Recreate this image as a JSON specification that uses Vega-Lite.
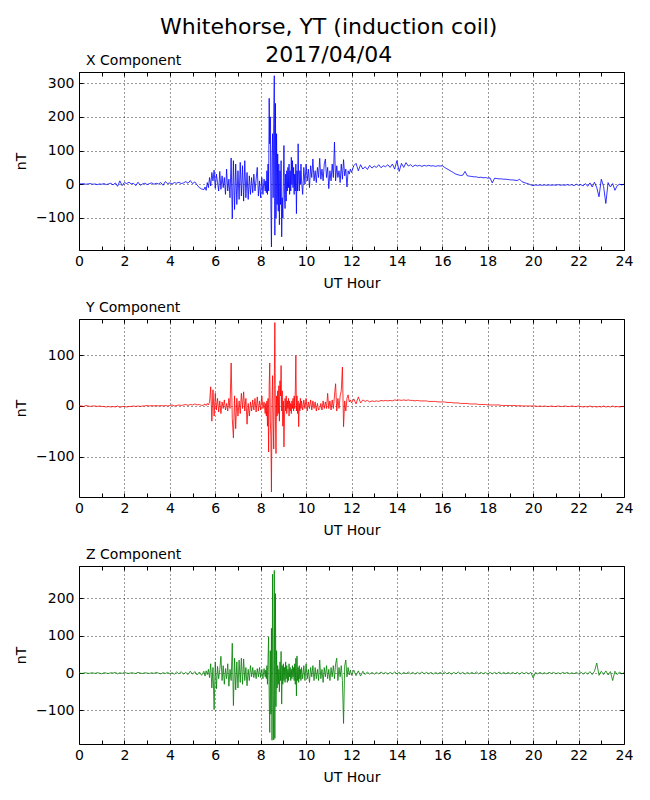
{
  "$schema": "https://vega.github.io/schema/vega-lite/v6.json",
  "padding": {"left": 14, "top": 16, "right": 20, "bottom": 10},
  "title": {
    "text": ["Whitehorse, YT (induction coil)", "2017/04/04"],
    "fontSize": 22,
    "fontWeight": "normal",
    "lineHeight": 28,
    "anchor": "middle",
    "offset": -14,
    "dx": 5,
    "color": "black"
  },
  "data": {
    "values": [
      {"t":0.0,"x":2,"y":0,"z":1},{"t":0.1,"x":1,"y":0,"z":-1},{"t":0.2,"x":2,"y":-1,"z":0},{"t":0.3,"x":0,"y":1,"z":1},
      {"t":0.4,"x":1,"y":0,"z":-1},{"t":0.5,"x":2,"y":-1,"z":0},{"t":0.6,"x":0,"y":0,"z":1},{"t":0.7,"x":1,"y":0,"z":-1},
      {"t":0.8,"x":-1,"y":-1,"z":1},{"t":0.9,"x":1,"y":0,"z":0},{"t":1.0,"x":0,"y":-1,"z":-2},{"t":1.1,"x":2,"y":-1,"z":1},
      {"t":1.2,"x":-1,"y":-2,"z":0},{"t":1.3,"x":1,"y":-1,"z":-1},{"t":1.4,"x":3,"y":-2,"z":1},{"t":1.5,"x":-2,"y":-1,"z":0},
      {"t":1.6,"x":4,"y":-2,"z":2},{"t":1.7,"x":-6,"y":0,"z":-2},{"t":1.8,"x":10,"y":-3,"z":1},{"t":1.9,"x":-4,"y":-1,"z":-1},
      {"t":2.0,"x":5,"y":-1,"z":2},{"t":2.1,"x":2,"y":-2,"z":0},{"t":2.2,"x":6,"y":-1,"z":-1},{"t":2.3,"x":1,"y":-1,"z":1},
      {"t":2.4,"x":3,"y":0,"z":0},{"t":2.5,"x":-4,"y":-1,"z":-1},{"t":2.6,"x":6,"y":0,"z":2},{"t":2.7,"x":-3,"y":-1,"z":0},
      {"t":2.8,"x":1,"y":0,"z":-1},{"t":2.9,"x":3,"y":0,"z":1},{"t":3.0,"x":-1,"y":1,"z":0},{"t":3.1,"x":2,"y":0,"z":-1},
      {"t":3.2,"x":4,"y":1,"z":1},{"t":3.3,"x":0,"y":0,"z":-1},{"t":3.4,"x":3,"y":1,"z":2},{"t":3.5,"x":1,"y":0,"z":0},
      {"t":3.6,"x":5,"y":1,"z":-2},{"t":3.7,"x":-3,"y":0,"z":1},{"t":3.8,"x":8,"y":1,"z":-1},{"t":3.9,"x":2,"y":0,"z":2},
      {"t":4.0,"x":4,"y":1,"z":-2},{"t":4.1,"x":1,"y":2,"z":1},{"t":4.2,"x":5,"y":0,"z":-3},{"t":4.3,"x":3,"y":1,"z":3},
      {"t":4.4,"x":6,"y":2,"z":-2},{"t":4.5,"x":2,"y":1,"z":4},{"t":4.6,"x":4,"y":2,"z":-3},{"t":4.7,"x":8,"y":3,"z":2},
      {"t":4.8,"x":3,"y":1,"z":-4},{"t":4.9,"x":11,"y":3,"z":5},{"t":5.0,"x":2,"y":2,"z":-3},{"t":5.1,"x":7,"y":4,"z":4},
      {"t":5.2,"x":-2,"y":2,"z":-5},{"t":5.3,"x":-10,"y":3,"z":3},{"t":5.4,"x":-14,"y":1,"z":-6},
      {"t":5.5,"x":-16,"y":2,"z":5},{"t":5.55,"x":-8,"y":4,"z":-8},{"t":5.6,"x":-18,"y":1,"z":6},{"t":5.65,"x":5,"y":5,"z":-4},
      {"t":5.7,"x":-10,"y":2,"z":10},{"t":5.75,"x":20,"y":8,"z":-12},{"t":5.8,"x":-5,"y":38,"z":25},{"t":5.85,"x":35,"y":-30,"z":-40},
      {"t":5.9,"x":10,"y":32,"z":15},{"t":5.95,"x":42,"y":-20,"z":-98},{"t":6.0,"x":-12,"y":25,"z":30},{"t":6.05,"x":30,"y":-8,"z":-42},
      {"t":6.1,"x":5,"y":15,"z":18},{"t":6.15,"x":-20,"y":-12,"z":-15},{"t":6.2,"x":38,"y":10,"z":10},{"t":6.25,"x":-15,"y":-15,"z":45},
      {"t":6.3,"x":25,"y":8,"z":-20},{"t":6.35,"x":-10,"y":-5,"z":20},{"t":6.4,"x":20,"y":12,"z":-30},{"t":6.45,"x":-30,"y":-8,"z":12},
      {"t":6.5,"x":45,"y":5,"z":-15},{"t":6.55,"x":-20,"y":-10,"z":25},{"t":6.6,"x":15,"y":15,"z":-35},{"t":6.65,"x":-40,"y":-5,"z":10},
      {"t":6.7,"x":78,"y":85,"z":-20},{"t":6.75,"x":-102,"y":-25,"z":80},{"t":6.8,"x":70,"y":-63,"z":-87},{"t":6.85,"x":-75,"y":20,"z":40},
      {"t":6.9,"x":60,"y":-45,"z":-45},{"t":6.95,"x":-60,"y":15,"z":30},{"t":7.0,"x":40,"y":-20,"z":-40},{"t":7.05,"x":-45,"y":10,"z":35},
      {"t":7.1,"x":65,"y":-15,"z":-25},{"t":7.15,"x":-35,"y":25,"z":40},{"t":7.2,"x":55,"y":-5,"z":-30},{"t":7.25,"x":-50,"y":28,"z":38},
      {"t":7.3,"x":70,"y":-10,"z":-20},{"t":7.35,"x":-40,"y":15,"z":15},{"t":7.4,"x":35,"y":-36,"z":-34},{"t":7.45,"x":-45,"y":5,"z":10},
      {"t":7.5,"x":25,"y":-20,"z":-20},{"t":7.55,"x":-30,"y":8,"z":20},{"t":7.6,"x":20,"y":-10,"z":-10},{"t":7.65,"x":-25,"y":12,"z":15},
      {"t":7.7,"x":30,"y":-8,"z":-12},{"t":7.75,"x":-20,"y":15,"z":8},{"t":7.8,"x":15,"y":-12,"z":-15},{"t":7.85,"x":50,"y":18,"z":12},
      {"t":7.9,"x":-35,"y":-10,"z":-10},{"t":7.95,"x":10,"y":10,"z":15},{"t":8.0,"x":-40,"y":-8,"z":-12},{"t":8.05,"x":20,"y":20,"z":10},
      {"t":8.1,"x":-30,"y":-5,"z":-15},{"t":8.15,"x":15,"y":8,"z":12},{"t":8.2,"x":-20,"y":-15,"z":-10},
      {"t":8.225,"x":10,"y":5,"z":8},{"t":8.25,"x":-25,"y":-20,"z":-15},{"t":8.275,"x":40,"y":10,"z":20},{"t":8.3,"x":-30,"y":-40,"z":-30},
      {"t":8.325,"x":60,"y":15,"z":40},{"t":8.35,"x":-20,"y":-91,"z":97},{"t":8.375,"x":255,"y":40,"z":-60},{"t":8.4,"x":120,"y":85,"z":-159},
      {"t":8.425,"x":200,"y":-30,"z":60},{"t":8.45,"x":-60,"y":-60,"z":-110},{"t":8.475,"x":-186,"y":-170,"z":120},{"t":8.5,"x":80,"y":10,"z":-180},
      {"t":8.525,"x":150,"y":60,"z":265},{"t":8.55,"x":-40,"y":-30,"z":-60},{"t":8.575,"x":180,"y":-85,"z":-179},{"t":8.6,"x":322,"y":40,"z":275},
      {"t":8.625,"x":-151,"y":165,"z":-175},{"t":8.65,"x":240,"y":-20,"z":213},{"t":8.675,"x":-100,"y":-94,"z":-90},{"t":8.7,"x":150,"y":20,"z":60},
      {"t":8.725,"x":-60,"y":-20,"z":-40},{"t":8.75,"x":90,"y":30,"z":20},{"t":8.775,"x":-80,"y":-15,"z":-30},{"t":8.8,"x":60,"y":40,"z":10},
      {"t":8.825,"x":-120,"y":-30,"z":-50},{"t":8.85,"x":40,"y":50,"z":30},{"t":8.875,"x":-60,"y":20,"z":-20},{"t":8.9,"x":70,"y":80,"z":58},
      {"t":8.925,"x":-156,"y":-10,"z":-83},{"t":8.95,"x":-40,"y":30,"z":20},{"t":8.975,"x":-100,"y":-40,"z":-30},{"t":9.0,"x":20,"y":10,"z":25},
      {"t":9.025,"x":115,"y":-81,"z":-20},{"t":9.05,"x":-30,"y":-20,"z":15},{"t":9.075,"x":-72,"y":15,"z":-25},{"t":9.1,"x":30,"y":-10,"z":30},
      {"t":9.125,"x":-50,"y":20,"z":-15},{"t":9.15,"x":40,"y":-15,"z":20},{"t":9.175,"x":-20,"y":10,"z":-25},{"t":9.2,"x":50,"y":-5,"z":10},
      {"t":9.225,"x":-10,"y":15,"z":-20},{"t":9.25,"x":60,"y":-20,"z":25},{"t":9.275,"x":-30,"y":10,"z":-10},{"t":9.3,"x":40,"y":-10,"z":15},
      {"t":9.325,"x":-20,"y":5,"z":-20},{"t":9.35,"x":80,"y":-15,"z":10},{"t":9.375,"x":0,"y":10,"z":-15},{"t":9.4,"x":70,"y":-5,"z":20},
      {"t":9.425,"x":-10,"y":15,"z":-10},{"t":9.45,"x":50,"y":-10,"z":15},{"t":9.475,"x":-30,"y":20,"z":-20},{"t":9.5,"x":30,"y":-5,"z":25},
      {"t":9.525,"x":-20,"y":30,"z":-30},{"t":9.55,"x":60,"y":100,"z":40},{"t":9.575,"x":-87,"y":-10,"z":-61},{"t":9.6,"x":40,"y":20,"z":46},
      {"t":9.625,"x":-20,"y":-15,"z":-20},{"t":9.65,"x":120,"y":10,"z":15},{"t":9.675,"x":10,"y":-41,"z":-25},{"t":9.7,"x":-20,"y":5,"z":20},
      {"t":9.725,"x":40,"y":-10,"z":-15},{"t":9.75,"x":0,"y":15,"z":10},{"t":9.775,"x":60,"y":-5,"z":-20},{"t":9.8,"x":10,"y":10,"z":15},
      {"t":9.85,"x":-30,"y":-8,"z":-15},{"t":9.9,"x":50,"y":12,"z":20},{"t":9.95,"x":0,"y":-5,"z":-20},{"t":10.0,"x":60,"y":15,"z":25},
      {"t":10.05,"x":10,"y":-10,"z":-15},{"t":10.1,"x":45,"y":8,"z":10},{"t":10.15,"x":-10,"y":-5,"z":-25},{"t":10.2,"x":55,"y":12,"z":15},
      {"t":10.25,"x":20,"y":-8,"z":-10},{"t":10.3,"x":75,"y":10,"z":20},{"t":10.35,"x":10,"y":-5,"z":-20},{"t":10.4,"x":40,"y":8,"z":15},
      {"t":10.45,"x":5,"y":-10,"z":-15},{"t":10.5,"x":50,"y":5,"z":10},{"t":10.55,"x":20,"y":-8,"z":-20},{"t":10.6,"x":77,"y":-5,"z":35},
      {"t":10.65,"x":15,"y":5,"z":-15},{"t":10.7,"x":45,"y":-8,"z":10},{"t":10.75,"x":10,"y":10,"z":-25},{"t":10.8,"x":60,"y":-5,"z":15},
      {"t":10.85,"x":75,"y":8,"z":-10},{"t":10.9,"x":20,"y":-5,"z":20},{"t":10.95,"x":50,"y":25,"z":-15},{"t":11.0,"x":-13,"y":-5,"z":10},
      {"t":11.05,"x":40,"y":10,"z":-20},{"t":11.1,"x":10,"y":-8,"z":15},{"t":11.15,"x":60,"y":12,"z":-10},{"t":11.2,"x":20,"y":-5,"z":20},
      {"t":11.25,"x":125,"y":20,"z":-15},{"t":11.3,"x":10,"y":44,"z":25},{"t":11.35,"x":55,"y":-10,"z":40},{"t":11.4,"x":20,"y":15,"z":-20},
      {"t":11.45,"x":40,"y":-5,"z":15},{"t":11.5,"x":5,"y":20,"z":-10},{"t":11.55,"x":60,"y":30,"z":20},{"t":11.6,"x":15,"y":77,"z":-20},
      {"t":11.65,"x":73,"y":-41,"z":-135},{"t":11.7,"x":25,"y":10,"z":20},{"t":11.75,"x":45,"y":-10,"z":35},{"t":11.8,"x":-8,"y":15,"z":-10},
      {"t":11.85,"x":40,"y":22,"z":15},{"t":11.9,"x":30,"y":8,"z":-5},{"t":11.95,"x":45,"y":12,"z":8},{"t":12.0,"x":35,"y":6,"z":-6},
      {"t":12.1,"x":55,"y":14,"z":8},{"t":12.2,"x":62,"y":4,"z":-7},{"t":12.3,"x":40,"y":18,"z":6},{"t":12.4,"x":58,"y":6,"z":-8},
      {"t":12.5,"x":45,"y":12,"z":5},{"t":12.6,"x":52,"y":9,"z":-4},{"t":12.7,"x":44,"y":11,"z":3},{"t":12.8,"x":56,"y":8,"z":-3},
      {"t":12.9,"x":48,"y":10,"z":2},{"t":13.0,"x":54,"y":9,"z":-3},{"t":13.1,"x":50,"y":10,"z":2},{"t":13.2,"x":58,"y":9,"z":-2},
      {"t":13.3,"x":49,"y":11,"z":3},{"t":13.4,"x":55,"y":10,"z":-2},{"t":13.5,"x":52,"y":11,"z":2},{"t":13.6,"x":58,"y":10,"z":-3},
      {"t":13.7,"x":50,"y":11,"z":2},{"t":13.8,"x":60,"y":10,"z":-2},{"t":13.9,"x":45,"y":12,"z":3},{"t":14.0,"x":70,"y":11,"z":-2},
      {"t":14.1,"x":38,"y":12,"z":2},{"t":14.2,"x":62,"y":11,"z":-3},{"t":14.3,"x":50,"y":12,"z":2},{"t":14.4,"x":64,"y":11,"z":-2},
      {"t":14.5,"x":54,"y":12,"z":3},{"t":14.6,"x":58,"y":11,"z":-2},{"t":14.7,"x":52,"y":11,"z":2},{"t":14.8,"x":57,"y":10,"z":-3},
      {"t":14.9,"x":54,"y":11,"z":2},{"t":15.0,"x":56,"y":10,"z":-2},{"t":15.1,"x":53,"y":10,"z":3},{"t":15.2,"x":56,"y":10,"z":-2},
      {"t":15.3,"x":54,"y":10,"z":2},{"t":15.4,"x":56,"y":9,"z":-2},{"t":15.5,"x":54,"y":9,"z":2},{"t":15.6,"x":55,"y":9,"z":-3},
      {"t":15.7,"x":53,"y":9,"z":2},{"t":15.8,"x":55,"y":8,"z":-2},{"t":15.9,"x":54,"y":8,"z":2},{"t":16.0,"x":55,"y":8,"z":-2},
      {"t":16.1,"x":50,"y":8,"z":3},{"t":16.2,"x":46,"y":7,"z":-2},{"t":16.3,"x":42,"y":7,"z":2},{"t":16.4,"x":38,"y":7,"z":-3},
      {"t":16.5,"x":34,"y":6,"z":2},{"t":16.6,"x":30,"y":6,"z":-2},{"t":16.7,"x":28,"y":6,"z":3},{"t":16.8,"x":26,"y":5,"z":-2},
      {"t":16.9,"x":27,"y":5,"z":2},{"t":17.0,"x":38,"y":5,"z":-3},{"t":17.1,"x":25,"y":5,"z":2},{"t":17.2,"x":24,"y":4,"z":-2},
      {"t":17.3,"x":23,"y":4,"z":2},{"t":17.4,"x":22,"y":4,"z":-2},{"t":17.5,"x":22,"y":4,"z":3},{"t":17.6,"x":20,"y":3,"z":-2},
      {"t":17.7,"x":21,"y":3,"z":2},{"t":17.8,"x":19,"y":3,"z":-2},{"t":17.9,"x":20,"y":3,"z":2},{"t":18.0,"x":18,"y":2,"z":-3},
      {"t":18.1,"x":19,"y":2,"z":2},{"t":18.2,"x":4,"y":2,"z":-2},{"t":18.3,"x":18,"y":2,"z":2},{"t":18.4,"x":17,"y":2,"z":-2},
      {"t":18.5,"x":16,"y":2,"z":3},{"t":18.6,"x":16,"y":1,"z":-2},{"t":18.7,"x":15,"y":1,"z":2},{"t":18.8,"x":15,"y":1,"z":-2},
      {"t":18.9,"x":14,"y":1,"z":2},{"t":19.0,"x":13,"y":1,"z":-2},{"t":19.1,"x":13,"y":1,"z":2},{"t":19.2,"x":12,"y":1,"z":-2},
      {"t":19.3,"x":11,"y":0,"z":2},{"t":19.4,"x":15,"y":1,"z":-3},{"t":19.5,"x":8,"y":0,"z":2},{"t":19.6,"x":5,"y":0,"z":-2},
      {"t":19.7,"x":3,"y":0,"z":2},{"t":19.8,"x":1,"y":0,"z":-2},{"t":19.9,"x":-2,"y":0,"z":2},{"t":20.0,"x":-4,"y":0,"z":-13},
      {"t":20.1,"x":-2,"y":0,"z":2},{"t":20.2,"x":-3,"y":-1,"z":-2},{"t":20.3,"x":-2,"y":0,"z":2},{"t":20.4,"x":-3,"y":-1,"z":-2},
      {"t":20.5,"x":-2,"y":0,"z":1},{"t":20.6,"x":-3,"y":-1,"z":-2},{"t":20.7,"x":-2,"y":-1,"z":2},{"t":20.8,"x":-3,"y":0,"z":-1},
      {"t":20.9,"x":-2,"y":-1,"z":2},{"t":21.0,"x":-3,"y":-1,"z":-2},{"t":21.1,"x":-1,"y":0,"z":1},{"t":21.2,"x":-3,"y":-1,"z":-2},
      {"t":21.3,"x":-2,"y":-1,"z":2},{"t":21.4,"x":-3,"y":0,"z":-1},{"t":21.5,"x":-1,"y":-1,"z":2},{"t":21.6,"x":-3,"y":-1,"z":-2},
      {"t":21.7,"x":-1,"y":0,"z":1},{"t":21.8,"x":-4,"y":-1,"z":-2},{"t":21.9,"x":0,"y":-1,"z":2},{"t":22.0,"x":-3,"y":0,"z":-2},
      {"t":22.1,"x":-1,"y":-1,"z":3},{"t":22.2,"x":-5,"y":-2,"z":-3},{"t":22.3,"x":2,"y":-1,"z":2},{"t":22.4,"x":-6,"y":-2,"z":-3},
      {"t":22.5,"x":4,"y":0,"z":4},{"t":22.6,"x":-8,"y":-2,"z":-4},{"t":22.7,"x":6,"y":-1,"z":5},{"t":22.8,"x":-10,"y":-2,"z":27},
      {"t":22.9,"x":-37,"y":-1,"z":-6},{"t":23.0,"x":15,"y":-2,"z":5},{"t":23.1,"x":-6,"y":0,"z":-4},{"t":23.2,"x":-57,"y":-2,"z":6},
      {"t":23.3,"x":5,"y":-1,"z":-5},{"t":23.4,"x":-8,"y":-2,"z":4},{"t":23.5,"x":2,"y":0,"z":-20},{"t":23.6,"x":-18,"y":-2,"z":5},
      {"t":23.7,"x":-4,"y":-1,"z":-4},{"t":23.8,"x":0,"y":-2,"z":3},{"t":23.9,"x":-2,"y":-1,"z":-2},{"t":24.0,"x":0,"y":-1,"z":1}
    ]
  },
  "spacing": 69,
  "bounds": "flush",
  "vconcat": [
    {
      "width": 545,
      "height": 178,
      "title": {"text": "X Component", "anchor": "start", "frame": "group", "dx": 7, "offset": 4},
      "resolve": {"axis": {"x": "independent", "y": "independent"}},
      "layer": [
        {
          "mark": {"type": "line", "color": "#0000ff", "strokeWidth": 0.8},
          "encoding": {
            "x": {
              "field": "t", "type": "quantitative",
              "scale": {"domain": [0, 24], "nice": false},
              "axis": {
                "orient": "bottom", "title": "UT Hour",
                "values": [0,1,2,3,4,5,6,7,8,9,10,11,12,13,14,15,16,17,18,19,20,21,22,23,24],
                "labelExpr": "datum.value % 2 == 0 ? datum.label : ''",
                "grid": true,
                "gridOpacity": {"condition": {"test": "datum.value % 2 == 1", "value": 0}, "value": 1}
              }
            },
            "y": {
              "field": "x", "type": "quantitative",
              "scale": {"domain": [-195, 333], "nice": false, "zero": false},
              "axis": {"orient": "left", "title": "nT", "values": [-100, 0, 100, 200, 300], "grid": true}
            }
          }
        },
        {
          "mark": {"type": "line", "strokeOpacity": 0},
          "encoding": {
            "x": {
              "field": "t", "type": "quantitative",
              "axis": {"orient": "top", "title": null, "labels": false, "grid": false,
                "values": [0,1,2,3,4,5,6,7,8,9,10,11,12,13,14,15,16,17,18,19,20,21,22,23,24]}
            },
            "y": {
              "field": "x", "type": "quantitative",
              "axis": {"orient": "right", "title": null, "labels": false, "grid": false, "values": [-100, 0, 100, 200, 300]}
            }
          }
        }
      ]
    },
    {
      "width": 545,
      "height": 178,
      "title": {"text": "Y Component", "anchor": "start", "frame": "group", "dx": 7, "offset": 4},
      "resolve": {"axis": {"x": "independent", "y": "independent"}},
      "layer": [
        {
          "mark": {"type": "line", "color": "#ff0000", "strokeWidth": 0.8},
          "encoding": {
            "x": {
              "field": "t", "type": "quantitative",
              "scale": {"domain": [0, 24], "nice": false},
              "axis": {
                "orient": "bottom", "title": "UT Hour",
                "values": [0,1,2,3,4,5,6,7,8,9,10,11,12,13,14,15,16,17,18,19,20,21,22,23,24],
                "labelExpr": "datum.value % 2 == 0 ? datum.label : ''",
                "grid": true,
                "gridOpacity": {"condition": {"test": "datum.value % 2 == 1", "value": 0}, "value": 1}
              }
            },
            "y": {
              "field": "y", "type": "quantitative",
              "scale": {"domain": [-180, 172], "nice": false, "zero": false},
              "axis": {"orient": "left", "title": "nT", "values": [-100, 0, 100], "grid": true}
            }
          }
        },
        {
          "mark": {"type": "line", "strokeOpacity": 0},
          "encoding": {
            "x": {
              "field": "t", "type": "quantitative",
              "axis": {"orient": "top", "title": null, "labels": false, "grid": false,
                "values": [0,1,2,3,4,5,6,7,8,9,10,11,12,13,14,15,16,17,18,19,20,21,22,23,24]}
            },
            "y": {
              "field": "y", "type": "quantitative",
              "axis": {"orient": "right", "title": null, "labels": false, "grid": false, "values": [-100, 0, 100]}
            }
          }
        }
      ]
    },
    {
      "width": 545,
      "height": 178,
      "title": {"text": "Z Component", "anchor": "start", "frame": "group", "dx": 7, "offset": 4},
      "resolve": {"axis": {"x": "independent", "y": "independent"}},
      "layer": [
        {
          "mark": {"type": "line", "color": "#008000", "strokeWidth": 0.8},
          "encoding": {
            "x": {
              "field": "t", "type": "quantitative",
              "scale": {"domain": [0, 24], "nice": false},
              "axis": {
                "orient": "bottom", "title": "UT Hour",
                "values": [0,1,2,3,4,5,6,7,8,9,10,11,12,13,14,15,16,17,18,19,20,21,22,23,24],
                "labelExpr": "datum.value % 2 == 0 ? datum.label : ''",
                "grid": true,
                "gridOpacity": {"condition": {"test": "datum.value % 2 == 1", "value": 0}, "value": 1}
              }
            },
            "y": {
              "field": "z", "type": "quantitative",
              "scale": {"domain": [-190, 287], "nice": false, "zero": false},
              "axis": {"orient": "left", "title": "nT", "values": [-100, 0, 100, 200], "grid": true}
            }
          }
        },
        {
          "mark": {"type": "line", "strokeOpacity": 0},
          "encoding": {
            "x": {
              "field": "t", "type": "quantitative",
              "axis": {"orient": "top", "title": null, "labels": false, "grid": false,
                "values": [0,1,2,3,4,5,6,7,8,9,10,11,12,13,14,15,16,17,18,19,20,21,22,23,24]}
            },
            "y": {
              "field": "z", "type": "quantitative",
              "axis": {"orient": "right", "title": null, "labels": false, "grid": false, "values": [-100, 0, 100, 200]}
            }
          }
        }
      ]
    }
  ],
  "config": {
    "font": "DejaVu Sans",
    "background": "white",
    "view": {"stroke": "black", "strokeWidth": 1},
    "axis": {
      "domain": false,
      "tickSize": -4,
      "tickColor": "black",
      "tickWidth": 1,
      "labelFont": "DejaVu Sans",
      "labelFontSize": 14,
      "labelColor": "black",
      "labelFlush": false,
      "labelOverlap": false,
      "labelBound": false,
      "titleFont": "DejaVu Sans",
      "titleFontSize": 14,
      "titleFontWeight": "normal",
      "titleColor": "black",
      "gridColor": "black",
      "gridDash": [1, 3],
      "gridWidth": 0.8
    },
    "axisX": {"labelPadding": 8, "titlePadding": 8},
    "axisY": {"labelPadding": 9, "titlePadding": 7},
    "title": {"font": "DejaVu Sans", "fontSize": 14, "fontWeight": "normal", "color": "black"}
  }
}
